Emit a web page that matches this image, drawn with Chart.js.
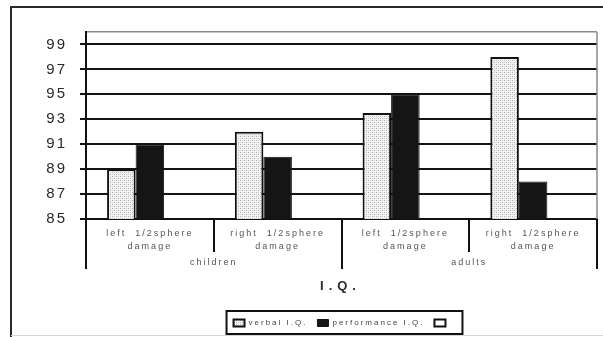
<!DOCTYPE html>
<html>
<head>
<meta charset="utf-8">
<script src="https://cdn.jsdelivr.net/npm/chart.js@4.4.1/dist/chart.umd.min.js"></script>
<style>
  html, body { margin: 0; padding: 0; background: #fff; }
  #wrap { width: 603px; height: 337px; position: relative; }
</style>
</head>
<body>
<div id="wrap"><canvas id="c" width="603" height="337"></canvas></div>
<script>
// Subgroups (one bar pair each) and the groups they belong to
const categories = [
  ['left  1/2sphere', 'damage'],
  ['right  1/2sphere', 'damage'],
  ['left  1/2sphere', 'damage'],
  ['right  1/2sphere', 'damage']
];
const groups = ['children', 'adults'];
const groupSize = 2;

// I.Q. scores
const verbalIQ = [89, 92, 93.5, 98];
const performanceIQ = [91, 90, 95, 88];
const emptySeries = [null, null, null, null];

const seriesNames = ['verbal I.Q.', 'performance I.Q.', ''];
const yTicks = [85, 87, 89, 91, 93, 95, 97, 99, 100];
const axisTitle = 'I.Q.';

// Fine stipple fill for the verbal bars
function stipple() {
  const t = document.createElement('canvas');
  t.width = 4; t.height = 4;
  const g = t.getContext('2d');
  g.fillStyle = '#f2f2f2';
  g.fillRect(0, 0, 4, 4);
  g.fillStyle = '#b4b4b4';
  g.fillRect(0, 0, 1, 1);
  g.fillRect(2, 2, 1, 1);
  g.fillStyle = '#d2d2d2';
  g.fillRect(2, 0, 1, 1);
  g.fillRect(0, 2, 1, 1);
  return g.createPattern(t, 'repeat');
}

const SPACING = '2px';
const spacingPlugin = {
  id: 'spacing',
  beforeUpdate(chart) { chart.ctx.letterSpacing = SPACING; },
  beforeLayout(chart) { chart.ctx.letterSpacing = SPACING; },
  beforeDraw(chart) { chart.ctx.letterSpacing = SPACING; }
};

// Frame, plot border, group separators, group labels, axis title, legend box
const decor = {
  id: 'decor',
  beforeDatasetsDraw(chart) {
    const { ctx, chartArea: a } = chart;
    ctx.save();
    ctx.strokeStyle = '#8a8a8a';
    ctx.lineWidth = 1.5;
    ctx.beginPath();
    ctx.moveTo(a.right, a.top);
    ctx.lineTo(a.right, a.bottom);
    ctx.stroke();
    ctx.restore();
  },
  afterDraw(chart) {
    const { ctx, chartArea: a } = chart;
    const x = chart.scales.x;
    ctx.save();
    ctx.letterSpacing = SPACING;

    // outer frame
    ctx.strokeStyle = '#2a2a2a';
    ctx.lineWidth = 2;
    ctx.beginPath();
    ctx.moveTo(11, 340);
    ctx.lineTo(11, 7);
    ctx.lineTo(605, 7);
    ctx.stroke();
    ctx.strokeStyle = '#d8d8d8';
    ctx.lineWidth = 1;
    ctx.beginPath();
    ctx.moveTo(11, 335.5);
    ctx.lineTo(603, 335.5);
    ctx.stroke();

    // separators below the axis
    const n = categories.length;
    const bounds = [];
    for (let i = 0; i <= n; i++) {
      if (i === 0) bounds.push(x.left);
      else if (i === n) bounds.push(x.right);
      else bounds.push((x.getPixelForValue(i - 1) + x.getPixelForValue(i)) / 2);
    }
    ctx.strokeStyle = '#111';
    ctx.lineWidth = 2;
    bounds.forEach((bx, i) => {
      const long = i % groupSize === 0;
      ctx.beginPath();
      ctx.moveTo(Math.round(bx), a.bottom);
      ctx.lineTo(Math.round(bx), a.bottom + (long ? 50 : 33));
      ctx.stroke();
    });

    // group labels
    ctx.fillStyle = '#555';
    ctx.font = '9px Arial, "Liberation Sans", sans-serif';
    ctx.textAlign = 'center';
    ctx.textBaseline = 'middle';
    groups.forEach((g, gi) => {
      const cx = (bounds[gi * groupSize] + bounds[(gi + 1) * groupSize]) / 2;
      ctx.fillText(g, cx, a.bottom + 44);
    });

    // axis title
    ctx.fillStyle = '#2a2a2a';
    ctx.letterSpacing = '5px';
    ctx.font = 'bold 13px Arial, "Liberation Sans", sans-serif';
    ctx.fillText(axisTitle, (a.left + a.right) / 2 - 1, a.bottom + 67);
    ctx.letterSpacing = SPACING;

    // legend border
    const lg = chart.legend;
    if (lg && lg.legendHitBoxes && lg.legendHitBoxes.length) {
      const hb = lg.legendHitBoxes;
      let l = Infinity, r = -Infinity, t = Infinity, b = -Infinity;
      hb.forEach(h => {
        l = Math.min(l, h.left); r = Math.max(r, h.left + h.width);
        t = Math.min(t, h.top); b = Math.max(b, h.top + h.height);
      });
      ctx.strokeStyle = '#111';
      ctx.lineWidth = 2;
      ctx.strokeRect(l - 7, t - 8, (r - l) + 20, (b - t) + 15);
    }
    ctx.restore();
  }
};

// legend box height: item height (8) + label padding (10) + 10
const LEGEND_H = 28;

new Chart(document.getElementById('c'), {
  type: 'bar',
  data: {
    labels: categories,
    datasets: [
      {
        label: seriesNames[0],
        data: verbalIQ,
        backgroundColor: stipple(),
        borderColor: '#111',
        borderWidth: 2,
        borderSkipped: false
      },
      {
        label: seriesNames[1],
        data: performanceIQ,
        backgroundColor: '#151515',
        borderColor: '#111',
        borderWidth: 1,
        borderSkipped: false
      },
      {
        label: seriesNames[2],
        data: emptySeries,
        backgroundColor: '#ffffff',
        borderColor: '#111',
        borderWidth: 2
      }
    ]
  },
  options: {
    responsive: false,
    animation: false,
    devicePixelRatio: 1,
    layout: { padding: { left: 0, right: 6, top: 32, bottom: 0 } },
    datasets: { bar: { categoryPercentage: 0.67, barPercentage: 1.0 } },
    scales: {
      x: {
        grid: { display: false, drawTicks: false },
        border: { display: true, color: '#111', width: 2 },
        ticks: {
          color: '#555',
          font: { family: 'Arial, "Liberation Sans", sans-serif', size: 9, lineHeight: 1.45 },
          padding: 8,
          maxRotation: 0,
          autoSkip: false
        },
        afterFit(s) { s.height = 337 - 219 - LEGEND_H; }
      },
      y: {
        min: 85,
        max: 100,
        afterBuildTicks(s) { s.ticks = yTicks.map(v => ({ value: v })); },
        grid: {
          color: c => (c.tick && c.tick.value === 100) ? '#8a8a8a' : '#141414',
          lineWidth: c => (c.tick && c.tick.value === 100) ? 1.5 : 2,
          tickColor: c => (c.tick && c.tick.value === 100) ? 'rgba(0,0,0,0)' : '#141414',
          tickLength: 6
        },
        border: { display: true, color: '#111', width: 2 },
        ticks: {
          color: '#2a2a2a',
          font: { family: 'Arial, "Liberation Sans", sans-serif', size: 15 },
          padding: 13,
          callback: v => v === 100 ? '' : String(v)
        },
        afterFit(s) { s.width = 86; }
      }
    },
    plugins: {
      legend: {
        position: 'bottom',
        fullSize: false,
        labels: {
          color: '#444',
          font: { family: 'Arial, "Liberation Sans", sans-serif', size: 8 },
          boxWidth: 11,
          boxHeight: 7,
          padding: 10
        }
      },
      title: { display: false },
      tooltip: { enabled: false }
    }
  },
  plugins: [spacingPlugin, decor]
});
</script>
</body>
</html>
